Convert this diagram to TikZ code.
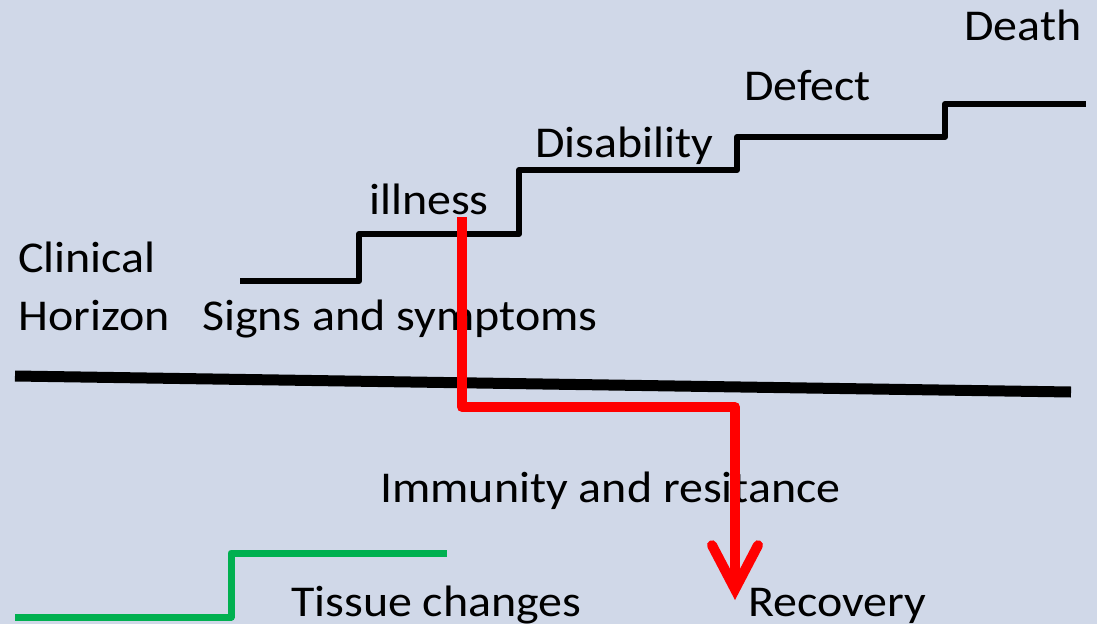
\documentclass[tikz,border=0pt]{standalone}
\usepackage{fontspec}
\setmainfont{Carlito}[FakeStretch=1.09]
\usetikzlibrary{arrows.meta}
\definecolor{panel}{RGB}{208,216,232}
\definecolor{stepgreen}{RGB}{0,176,80}
\definecolor{pathred}{RGB}{255,0,0}
\begin{document}
\begin{tikzpicture}[x=1pt,y=-1pt,
  label/.style={anchor=base west,inner sep=0pt,font=\fontsize{44}{50}\selectfont},
  stairs/.style={draw=black,line width=6pt,line join=round},
  horizon/.style={draw=black,line width=11pt},
  tissue/.style={draw=stepgreen,line width=7pt,line join=round},
  recovery/.style={draw=pathred,line width=10pt,line join=round,
    -{Straight Barb[length=44pt,width=46pt,line cap=round,line join=miter]}}]
  % canvas
  \fill[panel] (0,0) rectangle (1097,624);
  \useasboundingbox (0,0) rectangle (1097,624);

  % stage labels
  \node[label] (death) at (964,40) {Death};
  \node[label] (defect) at (744,100) {Defect};
  \node[label] (disab) at (535,157) {Disability};
  \node[label] (ill) at (369,214) {illness};
  \node[label] (clin) at (18,272) {Clinical};
  \node[label] (horiz) at (18,330) {Horizon};
  \node[label] (signs) at (202,330) {Signs and symptoms};
  \node[label] (immun) at (380,502) {Immunity and resitance};
  \node[label] (tissuelbl) at (291,616) {Tissue changes};
  \node[label] (recov) at (748,616) {Recovery};

  % staircase of disease progression
  \coordinate (s0) at (240,281);
  \coordinate (s5) at (1086,104);
  \draw[stairs] (s0) -- (359,281) -- (359,234) -- (519,234) -- (519,170)
    -- (737,170) -- (737,137) -- (945,137) -- (945,104) -- (s5);

  % the clinical horizon
  \coordinate (h0) at (15,376);
  \coordinate (h1) at (1071,392);
  \draw[horizon] (h0) -- (h1);

  % sub-clinical tissue changes
  \coordinate (t0) at (15,617);
  \coordinate (t1) at (447,553);
  \draw[tissue] (t0) -- (231,617) -- (231,553) -- (t1);

  % route to recovery
  \coordinate (rstart) at (462,217);
  \coordinate (rbend) at (735,407);
  \coordinate (rtip) at (735,600);
  \draw[recovery] (rstart) |- (rbend) -- (rtip);
\end{tikzpicture}
\end{document}
